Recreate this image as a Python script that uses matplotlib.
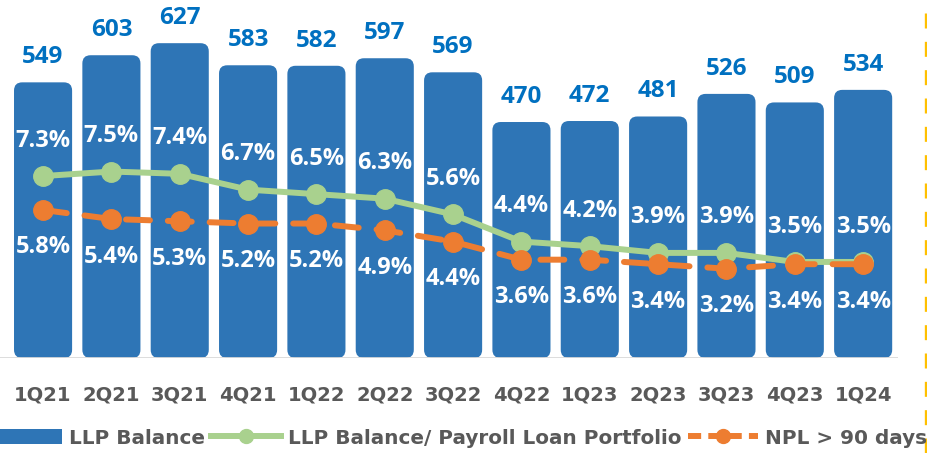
import matplotlib
matplotlib.use("Agg")
import matplotlib.pyplot as plt
from matplotlib.patches import FancyBboxPatch, Patch
from matplotlib.lines import Line2D
import numpy as np

quarters = ["1Q21", "2Q21", "3Q21", "4Q21", "1Q22", "2Q22", "3Q22",
            "4Q22", "1Q23", "2Q23", "3Q23", "4Q23", "1Q24"]
llp_balance = [549, 603, 627, 583, 582, 597, 569, 470, 472, 481, 526, 509, 534]
llp_ratio = [7.3, 7.5, 7.4, 6.7, 6.5, 6.3, 5.6, 4.4, 4.2, 3.9, 3.9, 3.5, 3.5]
npl_90 = [5.8, 5.4, 5.3, 5.2, 5.2, 4.9, 4.4, 3.6, 3.6, 3.4, 3.2, 3.4, 3.4]

BLUE = "#2E75B6"
LABEL_BLUE = "#0070C0"
GREEN = "#A9D18E"
ORANGE = "#ED7D31"
GREY_TXT = "#595959"

num_font = ["Open Sans", "DejaVu Sans"]
txt_font = ["DejaVu Sans"]

W, H = 927, 453
fig = plt.figure(figsize=(W / 100, H / 100), dpi=100)
ax = fig.add_axes([0, (H - 358) / H, 898 / W, 358 / H])

x = np.arange(len(quarters))
ax.set_xlim(-0.63, 12.51)
ax.set_ylim(0, 713)

# rounded bars, rounding corrected for the axes aspect
bar_w = 0.85
px_x = 898 / (12.51 + 0.63)
px_y = 358 / 713
aspect = px_x / px_y
for xi, v in zip(x, llp_balance):
    box = FancyBboxPatch((xi - bar_w / 2, 0), bar_w, v,
                         boxstyle="round,pad=0,rounding_size=0.12",
                         mutation_aspect=aspect,
                         fc=BLUE, ec="none", zorder=2)
    ax.add_patch(box)
    ax.annotate(str(v), (xi, v), xytext=(0, 18), textcoords="offset points",
                ha="center", va="center", color=LABEL_BLUE, fontsize=17.5,
                fontweight="bold", family=num_font)

ax.axhline(0, color="#D9D9D9", lw=2, zorder=3)
for s in ax.spines.values():
    s.set_visible(False)
ax.set_yticks([])
ax.set_xticks(x)
ax.set_xticklabels(quarters, fontsize=14, fontweight="bold", color=GREY_TXT,
                   family=txt_font)
ax.tick_params(axis="x", length=0, pad=19.5)

# percentage lines on a second axis
ax2 = ax.twinx()
ax2.set_ylim(-0.75, 15.09)
ax2.set_yticks([])
for s in ax2.spines.values():
    s.set_visible(False)

ax2.plot(x, llp_ratio, color=GREEN, lw=4.3, marker="o", ms=14,
         solid_capstyle="round", zorder=4)
ax2.plot(x, npl_90, color=ORANGE, lw=4.3, marker="o", ms=14,
         linestyle=(0, (4, 3)), dash_capstyle="round", zorder=5)

for xi, v in zip(x, llp_ratio):
    ax2.annotate(f"{v:.1f}%", (xi, v), xytext=(0, 25.5), textcoords="offset points",
                 ha="center", va="center", color="white", fontsize=17,
                 fontweight="bold", family=num_font)
for xi, v in zip(x, npl_90):
    ax2.annotate(f"{v:.1f}%", (xi, v), xytext=(0, -27), textcoords="offset points",
                 ha="center", va="center", color="white", fontsize=17,
                 fontweight="bold", family=num_font)

# dashed separator on the right
fig.add_artist(Line2D([925.5 / W, 925.5 / W], [0, 1], color="#FFC000", lw=2.4,
                      linestyle=(0, (4.5, 4))))

handles = [
    Patch(fc=BLUE, ec="none"),
    Line2D([], [], color=GREEN, lw=4.3, marker="o", ms=10),
    Line2D([], [], color=ORANGE, lw=4.3, marker="o", ms=10, linestyle=(0, (2.2, 1.2))),
]
labels = ["LLP Balance", "LLP Balance/ Payroll Loan Portfolio", "NPL > 90 days"]
fig.legend(handles, labels, loc="center left", bbox_to_anchor=(-8 / W, (H - 438) / H),
           ncol=3, frameon=False, handlelength=3.5, handleheight=0.75,
           handletextpad=0.36, columnspacing=0.3, borderaxespad=0, borderpad=0,
           prop={"family": txt_font, "weight": "bold", "size": 14.4},
           labelcolor=GREY_TXT)

fig.savefig("out.png", dpi=100)
